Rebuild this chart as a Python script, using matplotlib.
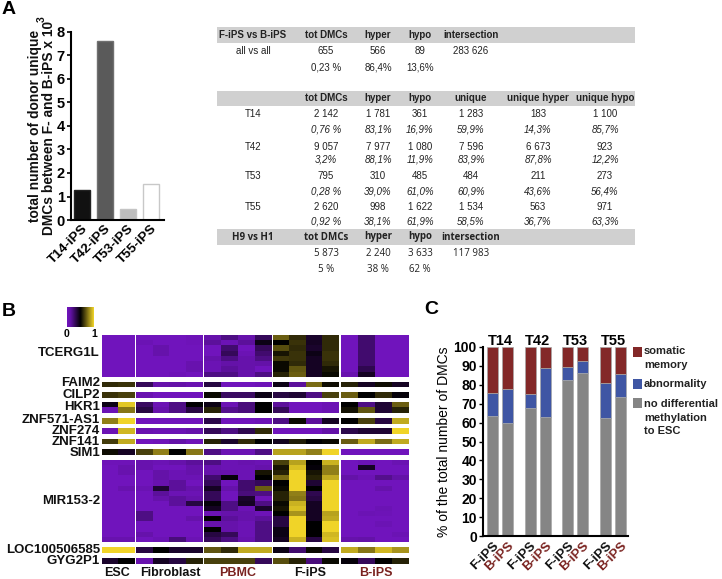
import numpy as np
import matplotlib
matplotlib.use('Agg')
import matplotlib.pyplot as plt
from matplotlib.colors import LinearSegmentedColormap
from matplotlib.patches import Rectangle

plt.rcParams['font.family'] = ['Liberation Sans', 'DejaVu Sans']
plt.rcParams['font.weight'] = 'bold'

W, H = 722, 579
DARK_RED = '#7a2320'

# panel A bars
donors = ['T14-iPS', 'T42-iPS', 'T53-iPS', 'T55-iPS']
unique_dmcs = [1.283, 7.596, 0.484, 1.534]
donor_face = ['#111111', '#5a5a5a', '#bdbdbd', '#ffffff']
donor_edge = ['#222222', '#707070', '#c4c4c4', '#c8c8c8']

# panel A table
table1_head = ['F-iPS vs B-iPS', 'tot DMCs', 'hyper', 'hypo', 'intersection']
table1_rows = [['all vs all', '655', '566', '89', '283 626'],
               ['', '0,23 %', '86,4%', '13,6%', '']]
table2_head = ['', 'tot DMCs', 'hyper', 'hypo', 'unique', 'unique hyper', 'unique hypo']
table2_rows = [['T14', '2 142', '1 781', '361', '1 283', '183', '1 100'],
               ['', '0,76 %', '83,1%', '16,9%', '59,9%', '14,3%', '85,7%'],
               ['T42', '9 057', '7 977', '1 080', '7 596', '6 673', '923'],
               ['', '3,2%', '88,1%', '11,9%', '83,9%', '87,8%', '12,2%'],
               ['T53', '795', '310', '485', '484', '211', '273'],
               ['', '0,28 %', '39,0%', '61,0%', '60,9%', '43,6%', '56,4%'],
               ['T55', '2 620', '998', '1 622', '1 534', '563', '971'],
               ['', '0,92 %', '38,1%', '61,9%', '58,5%', '36,7%', '63,3%']]
table3_head = ['H9 vs H1', 'tot DMCs', 'hyper', 'hypo', 'intersection']
table3_rows = [['', '5 873', '2 240', '3 633', '117 983'],
               ['', '5 %', '38 %', '62 %', '']]

# panel B heatmap, columns: ESC x2, Fibroblast x4, PBMC x4, F-iPS x4, B-iPS x4
tcerg1l = [[0, 0, 0, 0, 0, .03, .10, .20, .10, .30, .72, .60, .40, .60, 0, .25, 0, 0],
           [0, 0, .05, 0, 0, .02, .15, .05, .15, .45, .50, .62, .42, .60, 0, .25, 0, 0],
           [0, 0, 0, .10, 0, 0, 0, .25, 0, .30, .68, .60, .40, .60, 0, .25, 0, 0],
           [0, 0, 0, .10, 0, 0, 0, .30, .05, .25, .55, .62, .45, .62, 0, .25, 0, 0],
           [0, 0, 0, 0, 0, 0, .10, .20, .10, .20, .63, .62, .42, .62, 0, .25, 0, 0],
           [0, 0, 0, 0, 0, .08, .05, .12, .10, .12, .52, .60, .42, .60, 0, .25, 0, 0],
           [0, 0, 0, 0, 0, .08, .05, .15, .10, 0, .52, .70, .42, .55, 0, .32, 0, 0],
           [0, 0, 0, 0, .03, 0, .20, .20, .10, .20, .58, .72, .42, .52, .08, .42, 0, 0]]
faim2 = [[.60, .62, .30, .10, .12, .07, .35, 0, 0, .03, .45, .15, .75, .53, .58, .42, .53, .42]]
cilp2 = [[.62, .65, .07, 0, 0, 0, .52, .28, .28, .45, .35, .38, .20, .65, .72, .50, .60, .48]]
hkr1 = [[.45, .97, .28, .05, .20, .50, .45, .05, .22, .50, .15, 0, 0, .05, .50, .20, .38, .72],
        [.05, .78, .35, .10, .20, .35, .58, .18, .22, .50, .30, 0, 0, .05, .54, .70, .38, .58]]
znf571_as1 = [[.80, 1, 0, 0, 0, 0, .33, 0, 0, .03, .20, .52, .15, .42, .50, .65, .35, .90]]
znf274 = [[.05, .93, .07, .05, .05, .10, .30, .20, .32, .60, 0, 0, 0, .12, .33, .38, .38, 1]]
znf141 = [[.64, .90, 0, .02, .12, .02, .58, .40, .60, .50, .43, .57, .50, .52, .72, .90, .75, .90]]
sim1 = [[.53, .42, .65, .80, .50, .78, .20, .05, .05, .20, .88, .88, .80, 1, 0, 0, 0, 0]]
# MIR153-2 is easier to read column by column
mir153_cols = [[.02, 0, 0, 0, 0, 0, 0, 0, 0, 0, 0, 0, 0, 0, 0, .08],
               [.02, .08, .08, 0, 0, .08, 0, 0, 0, 0, 0, 0, 0, 0, 0, .08],
               [.08, .08, 0, 0, 0, .06, 0, 0, 0, 0, .20, .20, 0, 0, .10, 0],
               [.05, 0, .12, .12, .08, .38, .15, .10, 0, 0, 0, 0, 0, 0, 0, .05],
               [.10, 0, .05, .05, .15, .15, .05, .15, .15, 0, 0, 0, 0, 0, 0, .22],
               [.15, .10, .10, .05, 0, .10, .05, .10, .35, 0, 0, .10, 0, 0, 0, .05],
               [.20, .08, .10, .25, .30, .42, .30, .30, .48, .42, .05, .50, .10, .50, .35, .30],
               [.05, .05, .08, .48, 0, .10, 0, 0, .20, .20, .10, .15, .10, .10, .30, .20],
               [.08, .05, .05, .05, .25, .25, .22, .40, .42, .05, .10, .10, .05, .05, .05, .08],
               [.05, .10, .55, .50, .30, .72, .20, .02, .20, .40, .03, .15, .20, .20, .20, .20],
               [.65, .55, .58, .75, .50, .52, .58, .58, .52, .55, .50, .35, .35, .45, .45, .42],
               [.88, .95, 1, 1, 1, 1, .80, .78, .92, .95, .85, 1, 1, 1, 1, .92],
               [.50, .48, .55, .58, .38, .50, .32, .35, .42, .42, .42, .42, .50, .50, .50, .35],
               [.92, .80, .80, .90, 1, 1, 1, 1, 1, 1, .88, .90, 1, 1, .93, .95],
               [0, 0, 0, .12, 0, 0, 0, 0, 0, 0, 0, 0, 0, 0, 0, .10],
               [.05, .42, 0, .05, 0, 0, 0, 0, 0, 0, .05, 0, 0, 0, 0, .12],
               [0, 0, 0, .18, 0, .10, 0, 0, 0, .05, .03, 0, .05, 0, 0, 0],
               [.06, 0, 0, .12, 0, 0, 0, 0, 0, 0, 0, 0, 0, 0, .05, 0]]
mir153_2 = np.array(mir153_cols).T
loc100506585 = [[1, 1, .35, .50, .40, .40, .70, .60, .90, .90, .45, .25, .52, .35, .90, .78, .93, .85]]
gyg2p1 = [[.40, .50, .08, .42, .35, .58, .65, .65, .65, .30, .68, .58, .22, .52, .48, .30, .50, .58]]

gene_names = ['TCERG1L', 'FAIM2', 'CILP2', 'HKR1', 'ZNF571-AS1', 'ZNF274', 'ZNF141',
              'SIM1', 'MIR153-2', 'LOC100506585', 'GYG2P1']
gene_data = [tcerg1l, faim2, cilp2, hkr1, znf571_as1, znf274, znf141, sim1, mir153_2,
             loc100506585, gyg2p1]
gene_top = [335, 382, 392, 402, 418, 428, 439, 449, 460, 547, 558]
gene_bottom = [377, 387, 398, 413, 424, 434, 444, 455, 542, 553, 564]
gene_label_y = [353, 383, 394.5, 407, 420, 431, 442, 453, 501, 550, 561]

# panel C stacked bars
sample_labels = ['F-iPS', 'B-iPS'] * 4
no_diff = [63.5, 60, 67.5, 63, 82.5, 86, 62.3, 73.5]
abnormality = [12, 17.8, 7.5, 26, 7, 6.5, 18.7, 12]
somatic = [24.5, 22.2, 25, 11, 10.5, 7.5, 19, 14.5]
donor_titles = ['T14', 'T42', 'T53', 'T55']

cmap = LinearSegmentedColormap.from_list(
    'pbk', [(0, '#7014bc'), (0.12, '#6412a8'), (0.5, '#000000'), (1, '#f0d428')])

fig = plt.figure(figsize=(W / 100, H / 100), dpi=100, facecolor='white')


def px_axes(left, top, right, bottom):
    return fig.add_axes([left / W, 1 - bottom / H, (right - left) / W, (bottom - top) / H])


# full figure overlay in pixel coordinates, for table, heatmap and free text
page = fig.add_axes([0, 0, 1, 1])
page.set_xlim(0, W)
page.set_ylim(H, 0)
page.axis('off')

page.text(2, 10, 'A', fontsize=14, va='center')
page.text(2, 311, 'B', fontsize=14, va='center')
page.text(424, 310, 'C', fontsize=14, va='center')

# panel A bars
ax = px_axes(71, 32, 164, 220)
ax.bar(range(4), unique_dmcs, width=0.7, color=donor_face, edgecolor=donor_edge, linewidth=1)
ax.set_xlim(-0.478, 3.565)
ax.set_ylim(0, 8)
ax.set_yticks(range(0, 9))
ax.spines[['top', 'right']].set_visible(False)
ax.spines[['left', 'bottom']].set_linewidth(1.5)
ax.tick_params(axis='y', width=1.2, length=3, labelsize=10.5, pad=1.5)
ax.tick_params(axis='x', length=0, pad=2)
ax.set_xticks(range(4))
ax.set_xticklabels(donors, rotation=45, ha='right', rotation_mode='anchor', fontsize=9.7)
# separate texts, a superscript spoils the spacing of a two line ylabel
page.text(35.5, 126, 'total number of donor unique', rotation=90, ha='center', va='center',
          fontsize=9.9, color='#111111')
page.text(49, 128, 'DMCs between F- and B-iPS x 10', rotation=90, ha='center', va='center',
          fontsize=9.9, color='#111111')
page.text(42, 19, '3', rotation=90, ha='center', va='center', fontsize=7.5, color='#111111')

# table
col_x = [253, 326, 378, 420, 471, 538, 605]
row_y1 = [51, 67]
row_y2 = [114, 130, 147, 160, 176, 191, 207, 222]
row_y3 = [253, 269]
for top, bottom in [(27, 43), (91, 106), (229, 245)]:
    page.add_patch(Rectangle((217, top), 418, bottom - top, color='#d0d0d0', lw=0))


def table_row(cells, y, bold=False, italic=False, family='Liberation Sans'):
    for x, cell in zip(col_x, cells):
        page.text(x, y, cell, ha='center', va='center', fontsize=7, color='#222222',
                  family=family, fontweight='bold' if bold else 'normal',
                  fontstyle='italic' if italic else 'normal')


table_row(table1_head, 35, bold=True)
for cells, y in zip(table1_rows, row_y1):
    table_row(cells, y)
table_row(table2_head, 98, bold=True)
for i, (cells, y) in enumerate(zip(table2_rows, row_y2)):
    table_row(cells, y, italic=i % 2 == 1)
table_row(table3_head, 237, bold=True, family='Open Sans')
for cells, y in zip(table3_rows, row_y3):
    table_row(cells, y, family='Open Sans')

# panel B
group_left = [102, 136, 204, 273, 341]
group_right = [135, 203, 272, 339, 409]
group_cols = [(0, 2), (2, 6), (6, 10), (10, 14), (14, 18)]
for data, top, bottom in zip(gene_data, gene_top, gene_bottom):
    data = np.asarray(data, dtype=float)
    for left, right, (c0, c1) in zip(group_left, group_right, group_cols):
        page.imshow(data[:, c0:c1], cmap=cmap, vmin=0, vmax=1, aspect='auto',
                    extent=(left, right, bottom, top), interpolation='nearest')
page.set_xlim(0, W)
page.set_ylim(H, 0)

for name, y in zip(gene_names, gene_label_y):
    page.text(100, y, name, ha='right', va='center', fontsize=9.5, color='#111111')

group_names = ['ESC', 'Fibroblast', 'PBMC', 'F-iPS', 'B-iPS']
group_name_x = [117, 170, 238, 310, 376]
group_name_color = ['#111111', '#111111', DARK_RED, '#111111', DARK_RED]
for name, x, c in zip(group_names, group_name_x, group_name_color):
    page.text(x, 573, name, ha='center', va='center', fontsize=9, color=c)

# colour key
page.imshow(np.linspace(0, 1, 64)[None, :], cmap=cmap, vmin=0, vmax=1, aspect='auto',
            extent=(67, 94, 327, 307))
page.set_xlim(0, W)
page.set_ylim(H, 0)
page.text(67, 334, '0', ha='center', va='center', fontsize=7.5)
page.text(94, 334, '1', ha='center', va='center', fontsize=7.5)

# panel C
ax = px_axes(483, 347, 628, 536)
x_pos = [i // 2 * 37.7 + i % 2 * 15 + 9.5 for i in range(8)]
no_diff = np.array(no_diff)
abnormality = np.array(abnormality)
somatic = np.array(somatic)
RED, BLUE, GREY = '#832828', '#3f56a4', '#858585'
bar_style = dict(width=11, linewidth=0.5, edgecolor='#a8a8a8')
ax.bar(x_pos, no_diff, color=GREY, **bar_style)
ax.bar(x_pos, abnormality, bottom=no_diff, color=BLUE, **bar_style)
ax.bar(x_pos, somatic, bottom=no_diff + abnormality, color=RED, **bar_style)
ax.set_xlim(0, 145)
ax.set_ylim(0, 100)
ax.spines[['top', 'right']].set_visible(False)
ax.spines[['left', 'bottom']].set_linewidth(1.5)
ax.set_yticks(range(0, 101, 10))
ax.tick_params(axis='y', width=1, length=3, labelsize=10, pad=1.5)
ax.tick_params(axis='x', length=0, pad=3)
ax.set_xticks(x_pos)
ax.set_xticklabels(sample_labels, rotation=45, ha='right', rotation_mode='anchor', fontsize=9.5)
for tick, label in zip(ax.get_xticklabels(), sample_labels):
    tick.set_color(DARK_RED if label == 'B-iPS' else '#111111')
ax.set_ylabel('% of the total number of DMCs', fontsize=10, labelpad=2)

for i, title in enumerate(donor_titles):
    page.text((x_pos[2 * i] + x_pos[2 * i + 1]) / 2 + 483, 341, title, ha='center', va='center', fontsize=10.5)

# legend drawn by hand since entries are wrapped
legend_colors = [RED, BLUE, GREY]
legend_y = [347, 379, 398]
for c, y in zip(legend_colors, legend_y):
    page.add_patch(Rectangle((633, y), 9, 9.5, color=c, lw=0))
legend_lines = ['somatic', 'memory', 'abnormality', 'no differential', 'methylation', 'to ESC']
legend_line_y = [351, 365, 384, 404, 418, 431]
for line, y in zip(legend_lines, legend_line_y):
    page.text(644, y, line, va='center', fontsize=8, color='#222222')

fig.savefig('out.png', dpi=100)
